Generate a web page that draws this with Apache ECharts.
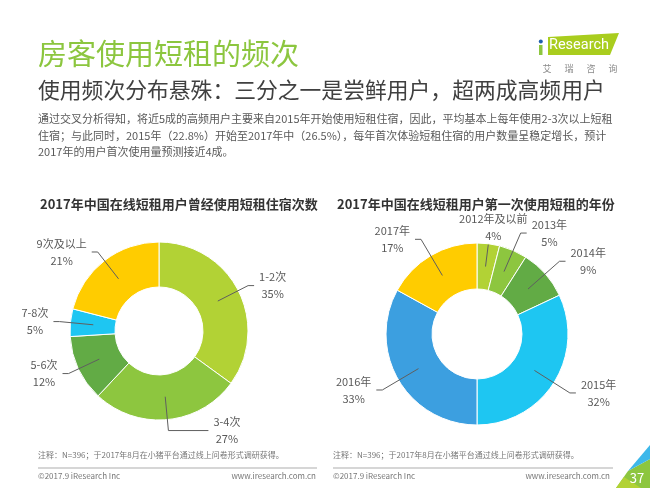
<!DOCTYPE html>
<html>
<head>
<meta charset="utf-8">
<title>房客使用短租的频次</title>
<script src="https://cdn.jsdelivr.net/npm/echarts/dist/echarts.min.js"></script>
<style>
    html, body { margin: 0; padding: 0; background: #fff; }
    #main { width: 650px; height: 488px; }
</style>
</head>
<body>
<div id="main"></div>
<script>
// 使用次数
var timesNames = ['1-2次', '3-4次', '5-6次', '7-8次', '9次及以上'];
var timesValues = [35, 27, 12, 5, 21];
// 第一次使用年份
var yearNames = ['2012年及以前', '2013年', '2014年', '2015年', '2016年', '2017年'];
var yearValues = [4, 5, 9, 32, 33, 17];

var timesColors = ['#B2D235', '#8DC63F', '#62AB45', '#1EC6F2', '#FFCC00'];
var yearColors = ['#B2D235', '#8DC63F', '#62AB45', '#1EC6F2', '#3C9FE0', '#FFCC00'];
var logoChars = ['艾', '瑞', '咨', '询'];

var FONT = '"Noto Sans CJK SC", "Noto Sans", sans-serif';
var bodyText = '通过交叉分析得知，将近5成的高频用户主要来自2015年开始使用短租住宿，因此，平均基本上每年使用2-3次以上短租\n' +
    '住宿；与此同时，2015年（22.8%）开始至2017年中（26.5%），每年首次体验短租住宿的用户数量呈稳定增长，预计\n' +
    '2017年的用户首次使用量预测接近4成。';
var noteText = '注释：N=396；于2017年8月在小猪平台通过线上问卷形式调研获得。';

function pieData(names, values) {
    var list = [];
    for (var i = 0; i < names.length; i++) {
        list.push({name: names[i], value: values[i]});
    }
    return list;
}

function ringSeries(center, radius, colors, data) {
    return {
        type: 'pie',
        center: center,
        radius: radius,
        startAngle: 90,
        silent: true,
        label: {show: false},
        labelLine: {show: false},
        itemStyle: {
            color: function (p) { return colors[p.dataIndex]; },
            borderColor: '#fff',
            borderWidth: 1
        },
        data: data
    };
}

// 透明的内层饼图，只用来画引导线和标签（引导线从圆环中间开始）
function labelSeries(center, r, lineLen, data, layoutFn) {
    return {
        type: 'pie',
        center: center,
        radius: [0, r],
        startAngle: 90,
        silent: true,
        z: 5,
        avoidLabelOverlap: false,
        itemStyle: {color: 'rgba(0,0,0,0)', borderWidth: 0},
        label: {
            show: true,
            position: 'outside',
            formatter: '{t|{b}}\n{t|{c}%}',
            rich: {
                t: {fontSize: 11, lineHeight: 17, color: '#595959', align: 'center', fontFamily: FONT}
            }
        },
        labelLine: {
            show: true,
            length: lineLen,
            length2: 6,
            lineStyle: {color: '#5f5f5f', width: 1}
        },
        labelLayout: layoutFn,
        data: data
    };
}

var timesLabelData = pieData(timesNames, timesValues);
timesLabelData[1].labelLine = {length2: 40};
var yearLabelData = pieData(yearNames, yearValues);
yearLabelData[0].labelLine = {length: 22, length2: 0};

function smallTitle(text, left, top, size, color, weight) {
    return {
        text: text, left: left, top: top, padding: 0,
        textStyle: {fontSize: size, color: color, fontWeight: weight || 'normal', fontFamily: FONT}
    };
}

var graphics = [
    {type: 'line', shape: {x1: 38, y1: 468, x2: 317, y2: 468}, style: {stroke: '#C8C8C8', lineWidth: 1.5}},
    {type: 'line', shape: {x1: 333, y1: 468, x2: 613, y2: 468}, style: {stroke: '#C8C8C8', lineWidth: 1.5}},
    // logo
    {type: 'polygon', shape: {points: [[548, 37], [619, 33], [610, 55], [548, 55]]}, style: {fill: '#A9CD1E'}},
    {type: 'rect', shape: {x: 539, y: 45, width: 3.5, height: 10}, style: {fill: '#8DC63F'}},
    {type: 'circle', shape: {cx: 540.8, cy: 41.5, r: 2}, style: {fill: '#1F5FAE'}},
    {type: 'text', x: 549, y: 45, style: {text: 'Research', fill: '#fff', fontSize: 14.5, fontFamily: 'Roboto, sans-serif', verticalAlign: 'middle'}},
    // 页码角标
    {type: 'polygon', shape: {points: [[616, 488], [628, 471], [650, 459], [650, 488]]}, style: {fill: '#8DC63F'}},
    {type: 'polygon', shape: {points: [[628, 471], [650, 445], [650, 459]]}, style: {fill: '#3DB8EA'}},
    {type: 'polygon', shape: {points: [[616, 488], [624, 477], [641, 488]]}, style: {fill: '#B2D235'}},
    {type: 'text', x: 637, y: 478, style: {text: '37', fill: '#fff', fontSize: 13, fontFamily: FONT, align: 'center', verticalAlign: 'middle'}}
];
for (var k = 0; k < logoChars.length; k++) {
    graphics.push({
        type: 'text', x: 547 + k * 22, y: 69,
        style: {text: logoChars[k], fill: '#8a8a8a', fontSize: 9, fontFamily: FONT, align: 'center', verticalAlign: 'middle'}
    });
}

var chart = echarts.init(document.getElementById('main'));
chart.setOption({
    backgroundColor: '#fff',
    animation: false,
    textStyle: {fontFamily: FONT},
    title: [
        smallTitle('房客使用短租的频次', 38, 39, 29, '#8CC63F'),
        smallTitle('使用频次分布悬殊：三分之一是尝鲜用户，超两成高频用户', 38, 79, 21.8, '#404040'),
        {
            text: bodyText, left: 38, top: 111, padding: 0,
            textStyle: {fontSize: 11, lineHeight: 16.5, color: '#595959', fontWeight: 'normal', fontFamily: FONT}
        },
        smallTitle('2017年中国在线短租用户曾经使用短租住宿次数', 40, 198, 13, '#333333', 'bold'),
        smallTitle('2017年中国在线短租用户第一次使用短租的年份', 337, 198, 13, '#333333', 'bold'),
        smallTitle(noteText, 38, 451, 8, '#777777'),
        smallTitle(noteText, 333, 451, 8, '#777777'),
        smallTitle('©2017.9 iResearch Inc', 38, 472, 8, '#777777'),
        smallTitle('©2017.9 iResearch Inc', 333, 472, 8, '#777777'),
        {text: 'www.iresearch.com.cn', right: 334, top: 472, padding: 0, textStyle: {fontSize: 8, color: '#777777', fontWeight: 'normal', fontFamily: FONT}},
        {text: 'www.iresearch.com.cn', right: 40, top: 472, padding: 0, textStyle: {fontSize: 8, color: '#777777', fontWeight: 'normal', fontFamily: FONT}}
    ],
    graphic: graphics,
    series: [
        ringSeries([159, 331], [44, 89], timesColors, pieData(timesNames, timesValues)),
        labelSeries([159, 331], 66, 34, timesLabelData),
        ringSeries([477, 334], [45, 91], yearColors, pieData(yearNames, yearValues)),
        labelSeries([477, 334], 68, 42, yearLabelData, function (p) {
            if (p.dataIndex === 0) {
                return {align: 'center', verticalAlign: 'bottom'};
            }
            return {};
        })
    ]
});
</script>
</body>
</html>
